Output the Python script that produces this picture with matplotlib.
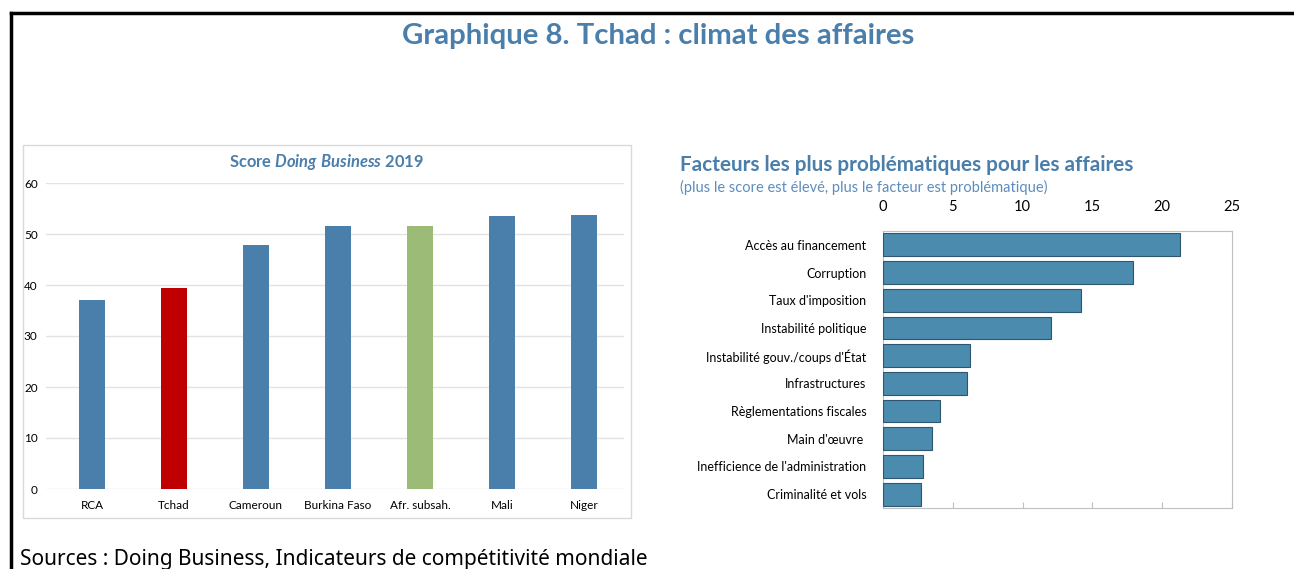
import numpy as np
import matplotlib
matplotlib.use('Agg')
import matplotlib.pyplot as plt
from matplotlib.patches import Rectangle
from matplotlib.lines import Line2D

# Score Doing Business 2019
pays = ['RCA', 'Tchad', 'Cameroun', 'Burkina Faso', 'Afr. subsah.', 'Mali', 'Niger']
score_db = [37.0, 39.4, 47.8, 51.6, 51.6, 53.5, 53.7]
couleurs_db = ['#4A7FAC', '#C00000', '#4A7FAC', '#4A7FAC', '#9BBB77', '#4A7FAC', '#4A7FAC']

# facteurs les plus problématiques
facteurs = ['Accès au financement', 'Corruption', "Taux d'imposition", 'Instabilité politique',
            "Instabilité gouv./coups d'État", 'Infrastructures', 'Règlementations fiscales',
            "Main d'œuvre ", "Inefficience de l'administration", 'Criminalité et vols']
scores_f = [21.3, 17.9, 14.2, 12.0, 6.2, 6.0, 4.1, 3.5, 2.9, 2.7]

bleu = '#4A7EAB'
W, H = 1294, 569
plt.rcParams['font.family'] = ['Lato', 'DejaVu Sans']
plt.rcParams['mathtext.fontset'] = 'custom'
plt.rcParams['mathtext.it'] = 'Lato:italic:bold'
plt.rcParams['mathtext.rm'] = 'Lato:bold'

fig = plt.figure(figsize=(W / 100, H / 100), dpi=100)

def fx(px):
    return px / W

def fy(py):
    return 1 - py / H

# cadre noir
fig.add_artist(Line2D([fx(11), 1.0], [fy(13), fy(13)], color='black', lw=2.5))
fig.add_artist(Line2D([fx(11), fx(11)], [fy(13), 0.0], color='black', lw=2.5))

fig.text(fx(658), fy(36), 'Graphique 8. Tchad : climat des affaires', ha='center', va='center',
         fontsize=21.2, fontweight='bold', color=bleu)

# panneau gauche
fig.add_artist(Rectangle((fx(23), fy(518)), fx(631) - fx(23), fy(145) - fy(518),
                         fill=False, edgecolor='#D9D9D9', lw=1))
fig.text(fx(326), fy(162), 'Score $\\it{Doing\\ Business}$ 2019', ha='center', va='center',
         fontsize=11.9, fontweight='bold', color=bleu)

ax1 = fig.add_axes([fx(46), fy(489), fx(624) - fx(46), fy(183) - fy(489)])
x = np.arange(len(pays))
ax1.bar(x, score_db, width=0.32, color=couleurs_db, zorder=3)
ax1.set_ylim(0, 60)
ax1.set_xlim(-0.561, 6.488)
ax1.set_yticks(np.arange(0, 61, 10))
ax1.grid(axis='y', color='#E3E3E3', lw=1, zorder=0)
for s in ax1.spines.values():
    s.set_visible(False)
ax1.set_xticks(x)
ax1.set_xticklabels(pays, fontsize=8.5)
ax1.tick_params(axis='both', length=0, labelsize=8.5, pad=8)
ax1.tick_params(axis='y', pad=6)

# panneau droit
fig.text(fx(680), fy(165), 'Facteurs les plus problématiques pour les affaires', ha='left', va='center',
         fontsize=14.95, fontweight='bold', color=bleu)
fig.text(fx(680), fy(187), '(plus le score est élevé, plus le facteur est problématique)', ha='left',
         va='center', fontsize=10.5, color='#5B8DBF')

ax2 = fig.add_axes([fx(883), fy(508), fx(1232) - fx(883), fy(231) - fy(508)])
y = np.arange(len(facteurs))
ax2.barh(y, scores_f, height=0.82, color='#4A8BAE', edgecolor='#2E5670', lw=0.8, zorder=3)
ax2.set_ylim(9.5, -0.5)
ax2.set_xlim(0, 25)
ax2.set_xticks(np.arange(0, 26, 5))
ax2.set_yticks(y)
ax2.set_yticklabels(facteurs, fontsize=9)
for s in ax2.spines.values():
    s.set_color('#BFBFBF')
ax2.tick_params(axis='x', bottom=True, top=False, labelbottom=False, labeltop=True,
                direction='in', length=4, color='#BFBFBF', labelsize=10.5, pad=12)
ax2.tick_params(axis='y', length=0, pad=12)

fig.text(fx(20), fy(559), 'Sources : Doing Business, Indicateurs de compétitivité mondiale', ha='left',
         va='center', fontsize=15, color='black', family=['Noto Sans', 'DejaVu Sans'])

fig.savefig('out.png', dpi=100)
